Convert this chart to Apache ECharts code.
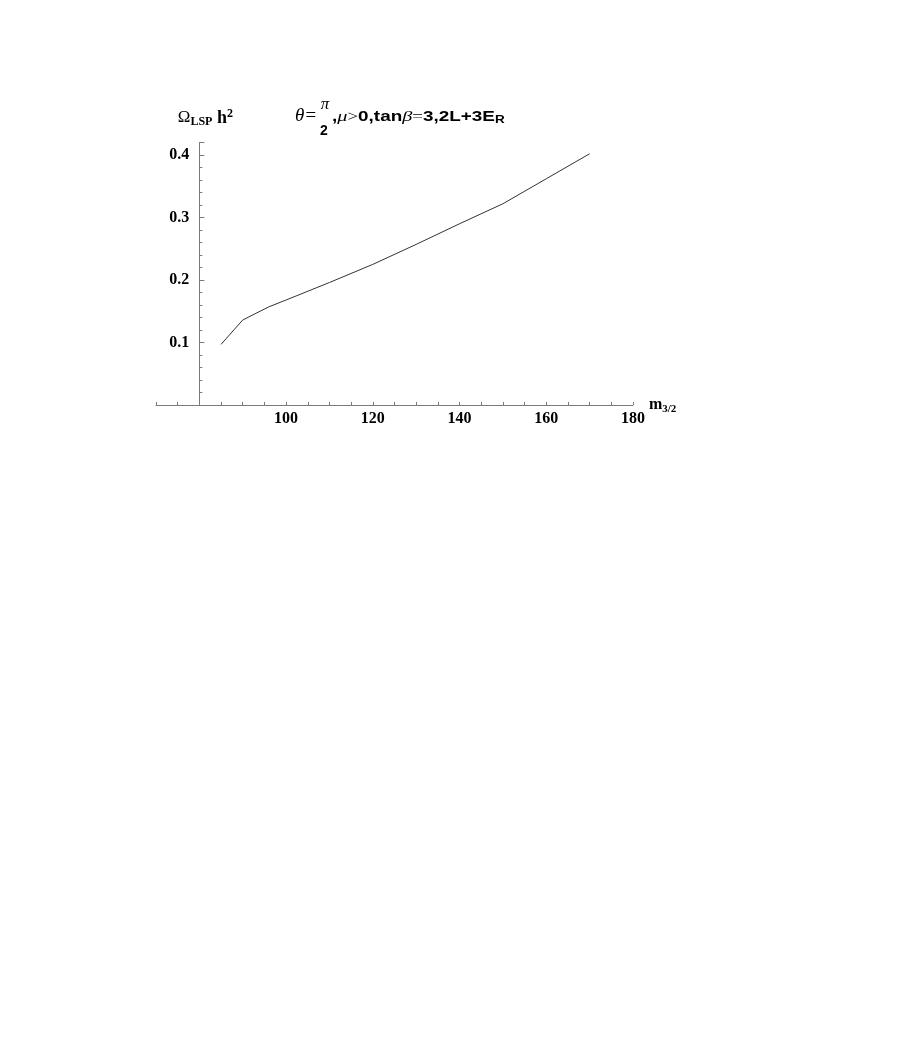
<!DOCTYPE html>
<html>
<head>
    <meta charset="utf-8">
    <title>Omega LSP h2 vs m3/2</title>
    <script src="https://cdn.jsdelivr.net/npm/echarts@6/dist/echarts.min.js"></script>
    <style>
        html, body { margin: 0; padding: 0; background: #fff; }
        #container { width: 900px; height: 1038px; }
    </style>
</head>
<body>
<div id="container"></div>
<script>
    // values
    var m32 = [85, 90, 96, 100, 110, 120, 130, 140, 150, 160, 170];
    var omega = [0.097, 0.136, 0.157, 0.168, 0.196, 0.225, 0.257, 0.290, 0.322, 0.362, 0.402];
    var xTickLabels = [100, 120, 140, 160, 180];
    var yTickLabels = [0.1, 0.2, 0.3, 0.4];

    var serif = '"Liberation Serif", "DejaVu Serif", serif';
    var sans = '"Liberation Sans", Arial, sans-serif';
    var axisColor = '#7a7a7a';

    var lineData = [];
    for (var i = 0; i < m32.length; i++) {
        lineData.push([m32[i], omega[i]]);
    }

    var myChart = echarts.init(document.getElementById('container'));

    var option = {
        backgroundColor: '#fff',
        animation: false,
        grid: {
            left: 156,
            right: 267,
            top: 142.5,
            bottom: 633,
            containLabel: false
        },
        xAxis: {
            type: 'value',
            min: 70,
            max: 180,
            interval: 5,
            name: '{m|m}{sub|3/2}',
            nameLocation: 'end',
            nameGap: 12,
            nameTextStyle: {
                rich: {
                    m: { fontFamily: serif, fontWeight: 'bold', fontSize: 16, color: '#000' },
                    sub: { fontFamily: serif, fontWeight: 'bold', fontSize: 11, color: '#000', verticalAlign: 'bottom', padding: [8, 0, 0, 0] }
                }
            },
            axisLine: { onZero: false, lineStyle: { color: axisColor, width: 1 } },
            axisTick: { show: true, inside: true, length: 3, lineStyle: { color: axisColor } },
            splitLine: { show: false },
            axisLabel: {
                margin: 6,
                fontFamily: serif,
                fontWeight: 'bold',
                fontSize: 16,
                color: '#000',
                formatter: function (v) {
                    return xTickLabels.indexOf(v) >= 0 ? String(v) : '';
                }
            }
        },
        yAxis: {
            type: 'value',
            min: 0,
            max: 0.42,
            interval: 0.1,
            position: 'left',
            offset: -43.36,
            name: '{o|Ω}{sub|LSP}{h| h}{sup|2}',
            nameLocation: 'end',
            nameGap: 14,
            nameTextStyle: {
                align: 'center',
                padding: [0, 0, 0, 12],
                rich: {
                    o: { fontFamily: serif, fontSize: 17, color: '#000' },
                    sub: { fontFamily: serif, fontWeight: 'bold', fontSize: 12, color: '#000', padding: [7, 0, 0, 0] },
                    h: { fontFamily: serif, fontWeight: 'bold', fontSize: 18, color: '#000' },
                    sup: { fontFamily: serif, fontWeight: 'bold', fontSize: 12, color: '#000', padding: [0, 0, 9, 0] }
                }
            },
            axisLine: { show: true, lineStyle: { color: axisColor, width: 1 } },
            axisTick: { show: true, inside: true, length: 5, lineStyle: { color: axisColor } },
            minorTick: { show: true, splitNumber: 5, length: 3, lineStyle: { color: axisColor } },
            splitLine: { show: false },
            minorSplitLine: { show: false },
            axisLabel: {
                margin: 10,
                fontFamily: serif,
                fontWeight: 'bold',
                fontSize: 16,
                color: '#000',
                formatter: function (v) {
                    for (var k = 0; k < yTickLabels.length; k++) {
                        if (Math.abs(v - yTickLabels[k]) < 1e-9) return yTickLabels[k].toFixed(1);
                    }
                    return '';
                }
            }
        },
        graphic: [
            {
                type: 'text', x: 295, y: 116,
                style: { text: 'θ=', font: 'italic 19px ' + serif, fill: '#000', verticalAlign: 'middle' }
            },
            {
                type: 'text', x: 325, y: 105,
                style: { text: 'π', font: 'italic 17px ' + serif, fill: '#000', align: 'center', verticalAlign: 'middle' }
            },
            {
                type: 'text', x: 324, y: 131,
                style: { text: '2', font: 'bold 14px ' + sans, fill: '#000', align: 'center', verticalAlign: 'middle' }
            },
            {
                type: 'text', x: 332, y: 117, scaleX: 1.35,
                style: {
                    text: '{b|,}{i|μ}{s|>}{b|0,tan}{i|β}{s|=}{b|3,2L+3E}{sub|R}',
                    verticalAlign: 'middle',
                    rich: {
                        b: { fontFamily: sans, fontWeight: 'bold', fontSize: 14, fill: '#000' },
                        i: { fontFamily: serif, fontStyle: 'italic', fontSize: 15, fill: '#000' },
                        s: { fontFamily: serif, fontSize: 14, fill: '#000' },
                        sub: { fontFamily: sans, fontWeight: 'bold', fontSize: 10, fill: '#000', padding: [6, 0, 0, 0] }
                    }
                }
            }
        ],
        series: [{
            type: 'line',
            data: lineData,
            symbol: 'none',
            lineStyle: { color: '#333', width: 1 }
        }]
    };

    myChart.setOption(option);
</script>
</body>
</html>
